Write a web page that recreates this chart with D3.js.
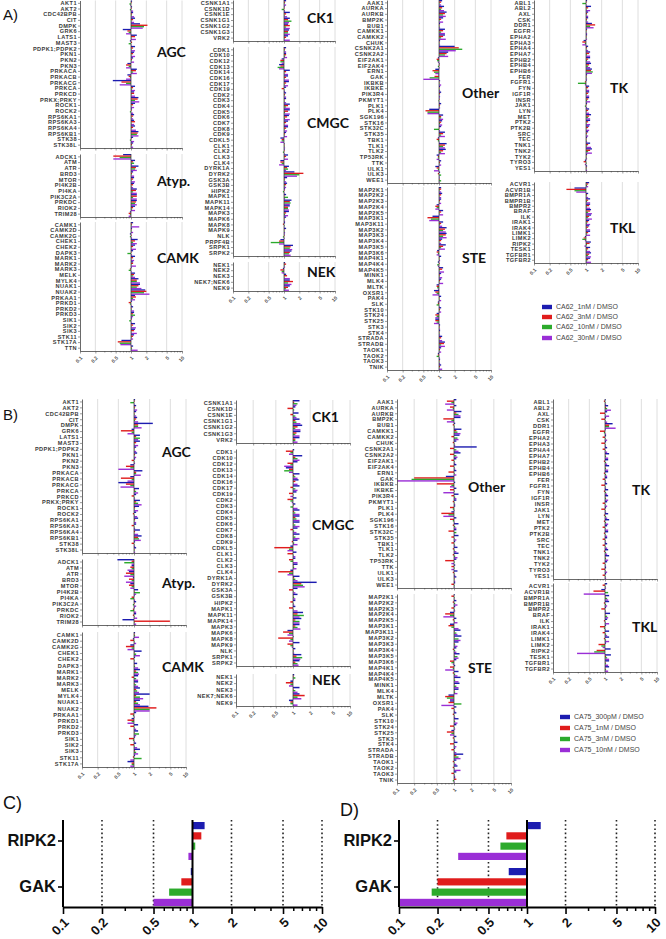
<!DOCTYPE html>
<html><head><meta charset="utf-8">
<script src="https://cdn.jsdelivr.net/npm/d3@7"></script>
<style>body{margin:0;background:#fff}svg{display:block}</style>
</head><body>
<script>
// ---------------- DATA ----------------
const seriesA = ["CA62_1nM / DMSO","CA62_3nM / DMSO","CA62_10nM / DMSO","CA62_30nM / DMSO"];
const seriesB = ["CA75_300pM / DMSO","CA75_1nM / DMSO","CA75_3nM / DMSO","CA75_10nM / DMSO"];
const majorTicks = [0.1,0.2,0.5,1,2,5,10];
const tickLabels = ["0.1","0.2","0.5","1","2","5","10"];
const minorTicks = [0.3,0.4,0.6,0.7,0.8,0.9,3,4,6,7,8,9];
const gridValues = [0.2,0.5,2,5,10];

const agcNames = ["AKT1","AKT2","CDC42BPB","CIT","DMPK","GRK6","LATS1","MAST3","PDPK1;PDPK2","PKN1","PKN2","PKN3","PRKACA","PRKACB","PRKACG","PRKCA","PRKCD","PRKX;PRKY","ROCK1","ROCK2","RPS6KA1","RPS6KA3","RPS6KA4","RPS6KB1","STK38","STK38L"];
const agcA = [[1.05,1.0,0.93,0.97],[1.05,1.02,0.95,1.1],[1.1,1.05,1.0,1.15],[1.2,1.1,1.0,1.15],[1.5,2.1,1.8,1.7],[0.69,0.85,0.9,0.8],[1.3,1.2,1.0,1.25],[0.95,1.05,0.9,1.0],[1.2,1.1,1.0,1.2],[1.15,1.1,1.0,1.2],[1.1,1.05,1.0,1.15],[0.85,0.8,0.9,0.8],[1.3,1.25,1.1,1.3],[0.85,0.9,0.95,0.8],[0.44,0.65,0.8,0.6],[1.2,1.1,1.05,1.2],[1.15,1.15,1.0,1.2],[1.4,1.35,1.2,1.45],[1.2,1.1,1.0,1.15],[1.05,1.0,0.95,1.1],[1.15,1.1,1.0,1.1],[1.15,1.2,1.0,1.15],[1.2,1.1,1.0,1.25],[1.4,1.35,1.3,1.4],[1.1,1.0,0.95,1.15],[1.1,1.05,1.0,1.1]];
const agcB = [[1.05,1.0,0.85,1.0],[1.1,1.05,1.0,1.15],[1.1,1.0,1.0,1.1],[1.15,1.1,1.05,1.2],[2.3,1.2,1.2,1.4],[0.9,0.56,0.9,0.75],[1.3,1.1,1.3,1.2],[1.3,1.1,1.0,1.2],[1.1,1.0,1.0,1.1],[1.15,1.05,1.0,1.1],[1.05,0.9,1.0,1.05],[0.85,0.7,0.85,0.5],[1.45,1.1,1.1,1.35],[0.85,0.56,0.9,0.75],[0.5,0.7,0.85,0.55],[1.25,1.05,1.1,1.2],[1.1,0.9,1.0,1.05],[1.3,1.1,1.2,1.4],[1.25,1.05,1.0,1.2],[1.1,0.95,1.0,1.15],[1.2,1.05,1.0,1.1],[1.1,0.9,1.0,1.05],[1.3,1.05,1.0,1.2],[1.4,1.2,1.25,1.35],[1.05,0.9,1.0,1.05],[1.1,1.0,1.0,1.05]];

const atypNames = ["ADCK1","ATM","ATR","BRD3","MTOR","PI4K2B","PI4KA","PIK3C2A","PRKDC","RIOK2","TRIM28"];
const atypA = [[0.7,0.45,0.6,0.45],[1.2,1.1,1.15,1.05],[1.4,1.25,1.2,1.3],[1.1,1.05,1.0,1.15],[1.15,1.1,1.0,1.2],[1.15,1.1,1.0,1.1],[1.3,1.25,1.1,1.3],[1.3,1.3,1.1,1.3],[1.3,1.25,1.2,1.3],[1.2,1.1,1.05,1.2],[0.95,0.9,0.95,0.9]];
const atypB = [[0.48,0.9,0.65,0.9],[0.9,0.85,0.9,0.75],[0.8,0.7,0.85,0.65],[0.95,0.8,0.9,0.7],[0.85,0.8,0.9,0.85],[1.2,1.0,1.3,1.1],[1.0,0.9,0.85,1.05],[1.1,1.0,0.95,1.1],[1.0,0.95,0.85,1.1],[1.1,0.95,1.0,1.15],[0.6,4.9,1.0,1.1]];

const camkNamesA = ["CAMK1","CAMK2D","CAMK2G","CHEK1","CHEK2","DAPK3","MARK1","MARK2","MARK3","MELK","MYLK4","NUAK1","NUAK2","PRKAA1","PRKD1","PRKD2","PRKD3","SIK1","SIK2","SIK3","STK11","STK17A","TTN"];
const camkNamesB = ["CAMK1","CAMK2D","CAMK2G","CHEK1","CHEK2","DAPK3","MARK1","MARK2","MARK3","MELK","MYLK4","NUAK1","NUAK2","PRKAA1","PRKD1","PRKD2","PRKD3","SIK1","SIK2","SIK3","STK11","STK17A"];
const camkA = [[1.1,1.05,1.0,1.45],[1.05,1.0,1.0,1.1],[0.95,1.0,0.95,1.05],[1.35,1.2,1.1,1.3],[1.2,1.1,1.0,1.25],[1.1,1.0,0.85,1.05],[1.2,1.1,1.0,1.15],[1.1,1.1,1.0,1.25],[1.0,0.95,0.9,1.0],[1.2,1.15,1.1,1.2],[1.4,1.3,1.3,1.5],[1.5,1.4,1.3,1.6],[1.9,2.0,1.8,2.3],[1.2,1.25,1.1,1.2],[1.05,0.9,0.95,1.0],[1.1,1.0,1.0,1.15],[1.15,1.1,1.2,1.1],[1.05,1.0,0.92,1.0],[1.2,1.1,1.0,1.25],[1.2,1.15,1.0,1.3],[1.15,1.1,1.0,1.1],[0.65,0.55,0.6,0.62],[1.1,1.0,1.05,1.35]];
const camkB = [[1.05,1.0,1.05,1.25],[0.95,0.85,1.0,1.1],[0.85,0.7,0.9,0.75],[1.4,1.0,1.1,1.3],[1.05,0.85,1.0,1.0],[1.15,1.0,1.05,1.2],[1.3,1.1,1.2,1.25],[1.2,0.9,1.1,1.2],[1.2,1.0,1.1,1.2],[1.3,1.1,1.15,1.25],[2.0,1.1,1.3,1.5],[1.3,1.1,1.2,1.3],[1.9,2.7,2.0,2.0],[1.1,0.85,0.95,1.0],[0.9,0.75,0.9,0.75],[1.2,0.85,1.0,1.1],[1.2,1.0,1.25,1.1],[1.05,0.8,0.95,1.0],[1.1,0.85,1.0,1.15],[1.3,1.05,1.1,1.2],[1.05,0.95,1.4,0.85],[0.75,0.9,0.9,0.85]];

const ck1Names = ["CSNK1A1","CSNK1D","CSNK1E","CSNK1G1","CSNK1G2","CSNK1G3","VRK2"];
const ck1A = [[1.1,1.05,1.0,1.1],[1.0,1.0,0.9,1.05],[1.3,1.1,1.0,1.15],[1.3,1.2,1.4,1.25],[1.2,1.3,1.1,1.3],[1.25,1.2,1.2,1.3],[1.2,1.1,1.0,1.3]];
const ck1B = [[1.3,1.05,1.2,1.15],[1.1,0.8,1.05,1.0],[1.25,0.9,1.1,1.15],[1.3,1.1,1.15,1.35],[1.45,1.2,1.1,1.35],[1.35,1.15,1.1,1.3],[1.3,1.1,1.1,1.2]];

const cmgcNamesA = ["CDK1","CDK10","CDK12","CDK13","CDK14","CDK16","CDK17","CDK19","CDK2","CDK3","CDK4","CDK5","CDK6","CDK7","CDK8","CDK9","CDKL5","CLK1","CLK2","CLK3","CLK4","DYRK1A","DYRK2","GSK3A","GSK3B","HIPK2","MAPK1","MAPK11","MAPK14","MAPK3","MAPK6","MAPK8","MAPK9","NLK","PRPF4B","SRPK1","SRPK2"];
const cmgcNamesB = ["CDK1","CDK10","CDK12","CDK13","CDK14","CDK16","CDK17","CDK19","CDK2","CDK3","CDK4","CDK5","CDK6","CDK7","CDK8","CDK9","CDKL5","CLK1","CLK2","CLK3","CLK4","DYRK1A","DYRK2","GSK3A","GSK3B","HIPK2","MAPK1","MAPK11","MAPK14","MAPK3","MAPK6","MAPK8","MAPK9","NLK","SRPK1","SRPK2"];
const cmgcA = [[1.1,1.05,1.0,1.1],[1.1,1.1,1.05,1.15],[0.9,0.85,0.85,0.9],[0.8,0.85,0.75,0.8],[1.3,1.1,1.0,1.2],[1.2,1.1,1.0,1.25],[1.25,1.1,1.0,1.2],[1.1,0.9,1.0,1.05],[1.1,1.05,1.0,1.1],[1.1,1.0,1.0,1.1],[1.3,1.2,1.1,1.3],[1.3,1.2,1.05,1.3],[1.25,1.15,1.05,1.3],[1.2,1.1,1.0,1.2],[1.2,1.1,1.0,1.15],[1.1,1.05,1.0,1.15],[0.85,0.9,0.9,0.85],[1.0,1.0,1.0,1.05],[1.0,1.0,0.95,1.0],[1.2,1.1,1.0,1.2],[0.85,0.85,0.9,0.8],[1.25,1.15,1.2,1.1],[1.6,2.4,2.0,1.8],[1.15,1.05,1.0,1.1],[1.15,1.1,1.05,1.1],[1.05,1.0,0.95,1.0],[1.1,1.0,1.2,1.05],[1.4,1.3,1.35,1.3],[1.3,1.2,1.2,1.25],[1.25,1.1,1.05,1.2],[1.1,1.0,1.0,1.05],[1.05,0.95,1.0,1.0],[1.1,1.0,1.0,1.05],[1.0,1.0,0.95,1.0],[0.85,0.8,0.55,0.8],[1.5,1.35,1.3,1.45],[1.4,1.3,1.25,1.35]];
const cmgcB = [[1.05,0.75,0.9,0.85],[1.45,1.1,1.2,1.3],[1.2,0.8,0.9,0.7],[0.75,0.85,0.7,0.85],[1.3,1.05,1.1,1.2],[1.25,1.1,1.0,1.2],[1.3,0.9,1.1,1.2],[1.15,0.85,1.0,0.9],[1.15,0.8,0.9,0.95],[1.1,1.0,0.9,1.2],[1.3,1.05,1.1,1.3],[1.3,1.1,1.15,1.3],[1.3,1.0,1.1,1.3],[1.2,0.9,1.05,1.15],[1.3,1.0,1.1,1.3],[1.2,0.95,1.05,1.2],[0.9,0.47,0.85,0.8],[1.15,0.8,1.0,1.1],[1.1,0.85,0.9,1.2],[1.2,1.0,1.05,1.15],[0.9,0.55,0.85,0.8],[1.3,1.05,1.1,1.2],[2.6,1.4,1.5,1.6],[1.2,0.85,1.0,1.1],[1.2,1.0,1.05,1.1],[1.1,0.9,1.0,1.05],[1.1,0.85,1.0,1.2],[1.5,1.2,1.55,1.3],[1.4,1.1,1.3,1.3],[1.3,1.1,1.2,1.35],[0.8,0.67,0.85,0.8],[1.0,0.55,0.9,0.85],[1.3,0.8,0.9,0.95],[1.1,1.0,1.0,1.05],[1.4,1.15,1.45,1.35],[1.3,1.1,1.2,1.25]];

const nekNames = ["NEK1","NEK2","NEK3","NEK7;NEK6","NEK9"];
const nekA = [[1.05,1.1,1.0,1.05],[0.95,0.85,0.9,0.9],[1.1,1.15,1.0,1.3],[1.3,1.5,1.2,1.4],[1.3,1.2,1.1,1.25]];
const nekB = [[1.05,1.0,1.1,1.0],[0.9,0.75,0.9,0.85],[1.3,1.0,1.1,1.2],[1.3,1.6,1.2,1.4],[0.85,0.9,0.9,1.2]];

const otherNames = ["AAK1","AURKA","AURKB","BMP2K","BUB1","CAMKK1","CAMKK2","CHUK","CSNK2A1","CSNK2A2","EIF2AK1","EIF2AK4","ERN1","GAK","IKBKB","IKBKE","PIK3R4","PKMYT1","PLK1","PLK4","SGK196","STK16","STK32C","STK35","TBK1","TLK1","TLK2","TP53RK","TTK","ULK1","ULK3","WEE1"];
const otherA = [[1.15,1.1,1.0,1.1],[1.25,1.15,1.1,1.25],[1.4,1.3,1.2,1.35],[1.2,1.1,1.0,1.2],[1.05,1.0,1.0,1.05],[1.3,1.2,1.1,1.3],[1.3,1.2,1.1,1.35],[1.05,1.0,1.0,1.05],[2.0,2.4,2.8,2.1],[1.5,1.4,1.3,1.5],[0.95,0.9,0.92,0.95],[1.0,1.0,0.95,1.0],[0.85,0.75,0.8,0.85],[0.97,0.82,0.66,0.50],[1.05,1.0,1.0,1.1],[1.05,1.0,1.0,1.05],[1.1,1.05,1.0,1.05],[1.0,1.0,0.98,1.0],[1.1,1.05,1.0,1.05],[0.65,0.55,0.6,0.6],[1.2,1.1,1.1,1.2],[1.15,1.1,1.05,1.15],[1.1,1.0,0.8,1.05],[1.3,1.2,1.1,1.3],[0.95,0.9,0.95,1.0],[1.4,1.3,1.2,1.3],[1.35,1.2,1.1,1.3],[0.9,0.95,0.95,0.9],[1.1,1.05,1.0,1.1],[0.85,0.9,0.95,0.8],[1.05,0.95,1.1,1.0],[1.0,1.0,1.1,1.0]];
const otherB = [[1.1,0.75,0.9,0.7],[1.1,0.85,0.95,0.75],[1.35,1.1,1.2,1.3],[1.3,0.65,0.9,0.75],[1.05,0.95,1.0,1.0],[1.35,1.1,1.15,1.3],[1.25,0.9,1.15,1.2],[1.1,0.95,1.0,1.05],[2.5,0.85,1.1,1.2],[1.3,0.85,1.1,1.15],[1.1,0.9,1.0,1.05],[1.1,0.85,1.0,1.05],[1.1,0.8,1.0,1.1],[0.72,0.20,0.18,0.10],[1.05,0.5,0.9,0.85],[1.1,0.85,1.0,0.65],[1.2,0.9,1.05,1.1],[1.1,0.95,1.0,1.05],[1.05,0.85,0.95,1.0],[0.9,0.6,0.8,0.65],[1.1,0.85,0.95,1.0],[1.2,0.95,1.05,1.1],[1.1,0.8,1.1,1.0],[1.2,0.9,1.0,1.1],[1.05,0.9,1.0,1.05],[1.15,0.95,1.0,1.1],[1.2,0.95,1.05,1.15],[1.1,0.7,1.0,0.9],[1.05,0.9,1.0,0.9],[1.15,0.95,1.0,1.05],[1.1,1.0,1.0,1.05],[1.05,0.9,1.0,1.0]];

const steNames = ["MAP2K1","MAP2K2","MAP2K3","MAP2K4","MAP2K5","MAP3K1","MAP3K11","MAP3K2","MAP3K3","MAP3K4","MAP3K5","MAP3K6","MAP4K1","MAP4K4","MAP4K5","MINK1","MLK4","MLTK","OXSR1","PAK4","SLK","STK10","STK24","STK25","STK3","STK4","STRADA","STRADB","TAOK1","TAOK2","TAOK3","TNIK"];
const steA = [[1.1,1.1,1.0,1.1],[1.15,1.1,1.0,1.1],[1.1,1.05,1.0,1.1],[0.9,0.85,0.9,0.85],[1.2,1.1,1.0,1.2],[0.75,0.6,0.7,0.65],[1.2,1.1,1.05,1.15],[1.4,1.3,1.2,1.35],[1.4,1.35,1.2,1.4],[1.15,1.1,1.0,1.1],[1.35,1.2,1.1,1.3],[0.92,0.9,0.95,0.9],[1.1,1.0,1.0,1.05],[0.95,1.0,0.92,0.95],[1.2,1.15,1.0,1.25],[1.1,1.05,1.0,1.15],[1.1,1.05,1.0,1.2],[0.9,0.9,0.92,0.95],[0.8,0.85,0.9,0.75],[1.1,1.0,1.0,1.1],[0.95,0.95,0.9,1.0],[1.1,1.05,1.0,1.1],[0.9,0.85,0.9,0.85],[0.85,0.85,0.9,0.8],[1.05,1.0,1.0,1.05],[1.05,1.0,1.0,1.05],[1.15,1.1,1.0,1.15],[1.3,1.25,1.1,1.3],[1.1,1.05,1.0,1.1],[0.95,0.95,0.9,1.0],[1.05,1.0,1.0,1.05],[1.1,1.05,1.0,1.15]];
const steB = [[1.0,0.9,1.0,1.0],[1.1,0.95,1.05,1.15],[1.05,0.9,1.0,1.05],[0.85,0.7,0.85,0.65],[1.1,0.95,1.0,1.15],[0.85,0.8,0.9,1.2],[1.3,1.0,1.1,1.15],[1.35,1.0,1.2,1.3],[1.2,1.0,1.05,1.15],[1.1,0.95,1.05,1.1],[1.25,1.0,1.15,1.2],[1.1,0.85,0.9,0.95],[1.05,0.85,0.95,0.7],[1.2,0.95,1.05,1.15],[1.3,1.0,1.05,1.2],[1.25,1.0,1.1,1.2],[1.2,1.0,1.05,1.15],[0.8,0.7,0.75,0.85],[0.85,0.8,1.35,0.6],[1.1,0.9,1.0,1.05],[1.1,0.95,1.0,1.05],[1.2,1.0,1.05,1.15],[1.1,0.85,1.0,1.05],[0.9,0.75,0.9,0.85],[1.1,0.95,1.0,1.05],[1.15,0.85,1.0,1.1],[1.05,0.9,1.0,1.1],[1.45,1.1,1.2,1.3],[1.1,0.95,1.0,1.1],[1.15,0.95,1.0,1.3],[1.1,0.9,1.0,1.05],[1.05,1.1,0.95,1.0]];

const tkNames = ["ABL1","ABL2","AXL","CSK","DDR1","EGFR","EPHA2","EPHA3","EPHA4","EPHA7","EPHB2","EPHB4","EPHB6","FER","FGFR1","FYN","IGF1R","INSR","JAK1","LYN","MET","PTK2","PTK2B","SRC","TEC","TNK1","TNK2","TYK2","TYRO3","YES1"];
const tkA = [[1.05,1.0,0.85,1.0],[1.25,1.1,1.0,1.2],[1.1,1.05,1.0,1.1],[1.1,1.05,1.0,1.1],[1.3,1.5,1.2,1.4],[1.05,1.0,1.0,1.05],[1.05,1.0,1.0,1.05],[0.9,0.85,0.95,0.85],[1.1,1.05,1.0,1.1],[1.2,1.15,1.05,1.2],[1.2,1.1,1.05,1.2],[1.25,1.15,1.1,1.2],[1.3,1.25,1.35,1.3],[1.05,1.0,1.0,1.05],[1.0,0.95,0.7,0.95],[1.15,1.1,1.0,1.15],[1.15,1.1,1.0,1.15],[1.15,1.1,1.05,1.2],[1.05,1.0,0.95,1.05],[1.15,1.1,1.0,1.15],[1.25,1.15,1.1,1.2],[1.2,1.1,1.0,1.2],[1.15,1.1,1.0,1.15],[1.1,1.05,1.0,1.1],[1.05,1.0,1.0,1.05],[1.2,1.1,1.05,1.25],[1.3,1.2,1.1,1.3],[1.05,1.0,1.0,1.05],[0.95,0.9,1.0,0.95],[1.05,1.0,1.0,1.05]];
const tkB = [[1.0,0.95,1.0,1.05],[1.15,1.05,1.1,1.3],[1.1,0.8,1.0,1.2],[1.05,0.85,1.0,1.1],[1.4,1.2,1.2,1.6],[1.0,0.8,0.95,1.05],[1.05,0.9,1.0,1.1],[1.05,0.85,1.0,1.05],[1.1,0.9,1.0,1.1],[1.2,1.0,1.05,1.15],[1.15,0.95,1.05,1.1],[1.2,1.0,1.05,1.15],[1.15,0.95,1.05,1.1],[1.1,0.9,1.0,1.05],[1.1,0.85,1.0,1.05],[1.15,0.95,1.05,1.1],[1.15,1.0,1.05,1.15],[1.1,0.9,1.0,1.1],[1.05,0.85,1.0,1.05],[1.15,0.95,1.05,1.1],[1.2,0.95,1.05,1.15],[1.1,0.9,1.0,1.15],[1.15,0.95,1.0,1.1],[1.1,0.9,1.0,1.05],[1.1,0.9,1.0,1.1],[1.15,0.95,1.05,1.1],[1.2,1.0,1.05,1.15],[1.1,0.9,1.0,1.05],[1.05,0.85,1.0,1.1],[1.05,0.9,1.0,1.05]];

const tklNames = ["ACVR1","ACVR1B","BMPR1A","BMPR1B","BMPR2","BRAF","ILK","IRAK1","IRAK4","LIMK1","LIMK2","RIPK2","TESK1","TGFBR1","TGFBR2"];
const tklA = [[1.15,1.1,1.05,1.1],[0.6,0.42,0.6,0.65],[1.1,1.05,1.0,1.1],[1.2,1.1,1.05,1.2],[1.2,1.15,1.05,1.2],[1.25,1.2,1.1,1.3],[1.25,1.15,1.1,1.3],[1.15,1.1,1.05,1.2],[1.15,1.1,1.0,1.2],[1.2,1.1,1.05,1.2],[0.95,0.9,0.85,0.95],[1.24,1.17,1.05,0.93],[1.2,1.1,1.05,1.2],[1.25,1.15,1.1,1.25],[1.2,1.1,1.05,1.25]];
const tklB = [[1.1,0.9,1.0,1.05],[0.85,0.6,1.15,0.39],[1.2,1.0,1.1,1.15],[1.2,0.95,1.05,1.1],[1.05,0.85,1.0,1.05],[1.25,1.0,1.1,1.15],[1.1,0.95,1.0,1.2],[1.05,0.8,0.95,1.0],[1.2,0.9,1.05,1.1],[1.2,0.95,1.05,1.2],[1.05,0.75,0.85,0.9],[1.28,0.69,0.62,0.29],[1.3,1.05,1.1,1.2],[1.2,1.0,1.05,1.15],[1.2,1.0,1.05,1.15]];

const cdCategories = ["RIPK2","GAK"];
const cValues = [[1.24,1.17,1.05,0.93],[0.97,0.82,0.66,0.50]];
const dValues = [[1.28,0.69,0.62,0.29],[0.72,0.20,0.18,0.10]];

// ---------------- LAYOUT ----------------
const colors = ["#1c1cb0","#e01c1c","#2caa2c","#9a2ed6"];
const panelA = [
  {x0:80, dec:51, subs:[
    {title:"AGC", names:agcNames, vals:agcA, top:0.5, bot:148, tx:157, ty:52},
    {title:"Atyp.", names:atypNames, vals:atypA, top:154, bot:217, tx:157, ty:181},
    {title:"CAMK", names:camkNamesA, vals:camkA, top:222, bot:351, tx:157, ty:258}]},
  {x0:233, dec:51, subs:[
    {title:"CK1", names:ck1Names, vals:ck1A, top:0, bot:41, tx:307, ty:18},
    {title:"CMGC", names:cmgcNamesA, vals:cmgcA, top:47, bot:256, tx:307, ty:123},
    {title:"NEK", names:nekNames, vals:nekA, top:262, bot:291, tx:307, ty:272}]},
  {x0:387, dec:52, subs:[
    {title:"Other", names:otherNames, vals:otherA, top:0, bot:183, tx:462, ty:93},
    {title:"STE", names:steNames, vals:steA, top:187, bot:370, tx:462, ty:258}]},
  {x0:534, dec:52, subs:[
    {title:"TK", names:tkNames, vals:tkA, top:0, bot:171, tx:610, ty:88},
    {title:"TKL", names:tklNames, vals:tklA, top:182, bot:263, tx:610, ty:228}]}
];
const panelB = [
  {x0:82, dec:52, subs:[
    {title:"AGC", names:agcNames, vals:agcB, top:399, bot:553, tx:162, ty:452},
    {title:"Atyp.", names:atypNames, vals:atypB, top:559, bot:625, tx:162, ty:583},
    {title:"CAMK", names:camkNamesB, vals:camkB, top:632, bot:767, tx:162, ty:667}]},
  {x0:236, dec:57, subs:[
    {title:"CK1", names:ck1Names, vals:ck1B, top:400, bot:443, tx:312, ty:417},
    {title:"CMGC", names:cmgcNamesB, vals:cmgcB, top:449, bot:666, tx:312, ty:525},
    {title:"NEK", names:nekNames, vals:nekB, top:674, bot:706, tx:312, ty:680}]},
  {x0:397, dec:57, subs:[
    {title:"Other", names:otherNames, vals:otherB, top:399, bot:588, tx:468, ty:487},
    {title:"STE", names:steNames, vals:steB, top:594, bot:783, tx:468, ty:668}]},
  {x0:553, dec:52, subs:[
    {title:"TK", names:tkNames, vals:tkB, top:399, bot:579, tx:632, ty:490},
    {title:"TKL", names:tklNames, vals:tklB, top:583, bot:672, tx:632, ty:627}]}
];

// ---------------- DRAW ----------------
const svg = d3.select("body").append("svg").attr("width",666).attr("height",939)
  .style("font-family","'Liberation Sans', Arial, sans-serif");

function smallPlot(col, sub, showLabels){
  const x = d3.scaleLog().domain([0.1,10]).range([col.x0, col.x0+2*col.dec]);
  const y = d3.scaleBand().domain(sub.names).range([sub.top, sub.bot]);
  const ys = d3.scaleBand().domain(d3.range(4)).range([0, y.bandwidth()]);
  const g = svg.append("g");
  g.selectAll("line.grid").data(gridValues).join("line").attr("class","grid")
    .attr("x1",d=>x(d)).attr("x2",d=>x(d)).attr("y1",sub.top).attr("y2",sub.bot)
    .attr("stroke","#d6d6d6").attr("stroke-width",0.8);
  const flat = [];
  sub.names.forEach((n,i)=>sub.vals[i].forEach((v,j)=>flat.push({n,j,v})));
  g.selectAll("rect").data(flat).join("rect")
    .attr("x",d=>Math.min(x(d.v),x(1))).attr("width",d=>Math.max(0.6,Math.abs(x(d.v)-x(1))))
    .attr("y",d=>y(d.n)+ys(d.j)).attr("height",ys.bandwidth()*0.95)
    .attr("fill",d=>colors[d.j]);
  g.append("line").attr("x1",x(1)).attr("x2",x(1)).attr("y1",sub.top).attr("y2",sub.bot)
    .attr("stroke","#333").attr("stroke-width",0.7);
  const ya = g.append("g").attr("transform",`translate(${col.x0},0)`)
    .call(d3.axisLeft(y).tickSize(2).tickSizeOuter(0).tickPadding(1));
  ya.select(".domain").attr("stroke","#444").attr("stroke-width",0.8);
  ya.selectAll(".tick line").attr("stroke","#555").attr("stroke-width",0.6);
  ya.selectAll("text").attr("font-size","5.6px").attr("font-weight","bold")
    .attr("letter-spacing","0.45px").attr("fill","#3a3a3a");
  const xm = g.append("g").attr("transform",`translate(0,${sub.bot})`)
    .call(d3.axisBottom(x).tickValues(minorTicks).tickSize(1.5).tickFormat(""));
  xm.select(".domain").remove();
  xm.selectAll(".tick line").attr("stroke","#555").attr("stroke-width",0.6);
  const xa = g.append("g").attr("transform",`translate(0,${sub.bot})`)
    .call(d3.axisBottom(x).tickValues(majorTicks).tickSize(2.5).tickSizeOuter(0)
      .tickFormat((d,i)=> showLabels ? tickLabels[i] : ""));
  xa.select(".domain").attr("stroke","#444").attr("stroke-width",0.8);
  xa.selectAll(".tick line").attr("stroke","#555").attr("stroke-width",0.6);
  xa.selectAll("text").attr("x",0).attr("y",0).attr("dy","0.35em")
    .attr("transform","translate(1,6) rotate(-45)").style("text-anchor","end")
    .attr("font-size","5px").attr("font-weight","bold").attr("fill","#555");
  svg.append("text").attr("x",sub.tx).attr("y",sub.ty).attr("dy","0.35em")
    .attr("font-family","Lato, 'Open Sans', sans-serif").attr("font-weight","bold")
    .attr("font-size","14px").attr("fill","#111").text(sub.title);
}
function drawPanel(panel){
  panel.forEach(col=>col.subs.forEach((s,i)=>smallPlot(col,s,i===col.subs.length-1)));
}
drawPanel(panelA);
drawPanel(panelB);

function legend(names, x, ys){
  const lg = svg.append("g");
  names.forEach((n,i)=>{
    lg.append("rect").attr("x",x).attr("y",ys[i]-2.2).attr("width",10).attr("height",4.4).attr("fill",colors[i]);
    lg.append("text").attr("x",x+14).attr("y",ys[i]).attr("dy","0.35em").attr("font-size","7px")
      .attr("fill","#444").text(n);
  });
}
legend(seriesA, 542, [307,317,327,338]);
legend(seriesB, 560, [717,728,739,750]);

function bigPlot(vals, x0, x1){
  const top = 820, bot = 907;
  const x = d3.scaleLog().domain([0.1,10]).range([x0,x1]);
  const y = d3.scaleBand().domain(cdCategories).range([822,906]).paddingInner(0.174);
  const ys = d3.scaleBand().domain(d3.range(4)).range([0,y.bandwidth()]).paddingInner(0.3);
  const g = svg.append("g");
  g.selectAll("line.grid").data(gridValues).join("line")
    .attr("x1",d=>x(d)).attr("x2",d=>x(d)).attr("y1",top).attr("y2",bot)
    .attr("stroke","#222").attr("stroke-width",1.6).attr("stroke-dasharray","1.6,2.6");
  const flat = [];
  cdCategories.forEach((n,i)=>vals[i].forEach((v,j)=>flat.push({n,j,v})));
  g.selectAll("rect").data(flat).join("rect")
    .attr("x",d=>Math.min(x(d.v),x(1))).attr("width",d=>Math.abs(x(d.v)-x(1)))
    .attr("y",d=>y(d.n)+ys(d.j)).attr("height",ys.bandwidth())
    .attr("fill",d=>colors[d.j]);
  g.append("line").attr("x1",x(1)).attr("x2",x(1)).attr("y1",top).attr("y2",bot)
    .attr("stroke","#000").attr("stroke-width",2);
  const ya = g.append("g").attr("transform",`translate(${x0},0)`)
    .call(d3.axisLeft(y).tickSize(5).tickSizeOuter(0).tickPadding(2));
  ya.select(".domain").attr("d",`M0,${top}V${bot}`).attr("stroke","#000").attr("stroke-width",2);
  ya.selectAll(".tick line").attr("stroke","#000").attr("stroke-width",1.6);
  ya.selectAll("text").attr("font-size","16.5px").attr("font-weight","bold").attr("fill","#111");
  const xm = g.append("g").attr("transform",`translate(0,${bot})`)
    .call(d3.axisBottom(x).tickValues(minorTicks).tickSize(4).tickFormat(""));
  xm.select(".domain").remove();
  xm.selectAll(".tick line").attr("stroke","#000").attr("stroke-width",1.5);
  const xa = g.append("g").attr("transform",`translate(0,${bot})`)
    .call(d3.axisBottom(x).tickValues(majorTicks).tickSize(7).tickSizeOuter(0)
      .tickFormat((d,i)=>tickLabels[i]));
  xa.select(".domain").attr("stroke","#000").attr("stroke-width",2.2);
  xa.selectAll(".tick line").attr("stroke","#000").attr("stroke-width",1.6);
  xa.selectAll("text").attr("x",0).attr("y",0).attr("dy","0.35em")
    .attr("transform","translate(3,13) rotate(-45)").style("text-anchor","end")
    .attr("font-size","13px").attr("font-weight","bold").attr("fill","#111");
}
bigPlot(cValues, 63, 322);
bigPlot(dValues, 399, 655);

const lab = [["A)",3,15,15],["B)",3,415,15],["C)",3,803,18],["D)",340,810,18]];
svg.selectAll("text.plab").data(lab).join("text").attr("class","plab")
  .attr("x",d=>d[1]).attr("y",d=>d[2]).attr("dy","0.35em").attr("font-size",d=>d[3]+"px")
  .attr("fill","#111").text(d=>d[0]);
</script>
</body></html>
